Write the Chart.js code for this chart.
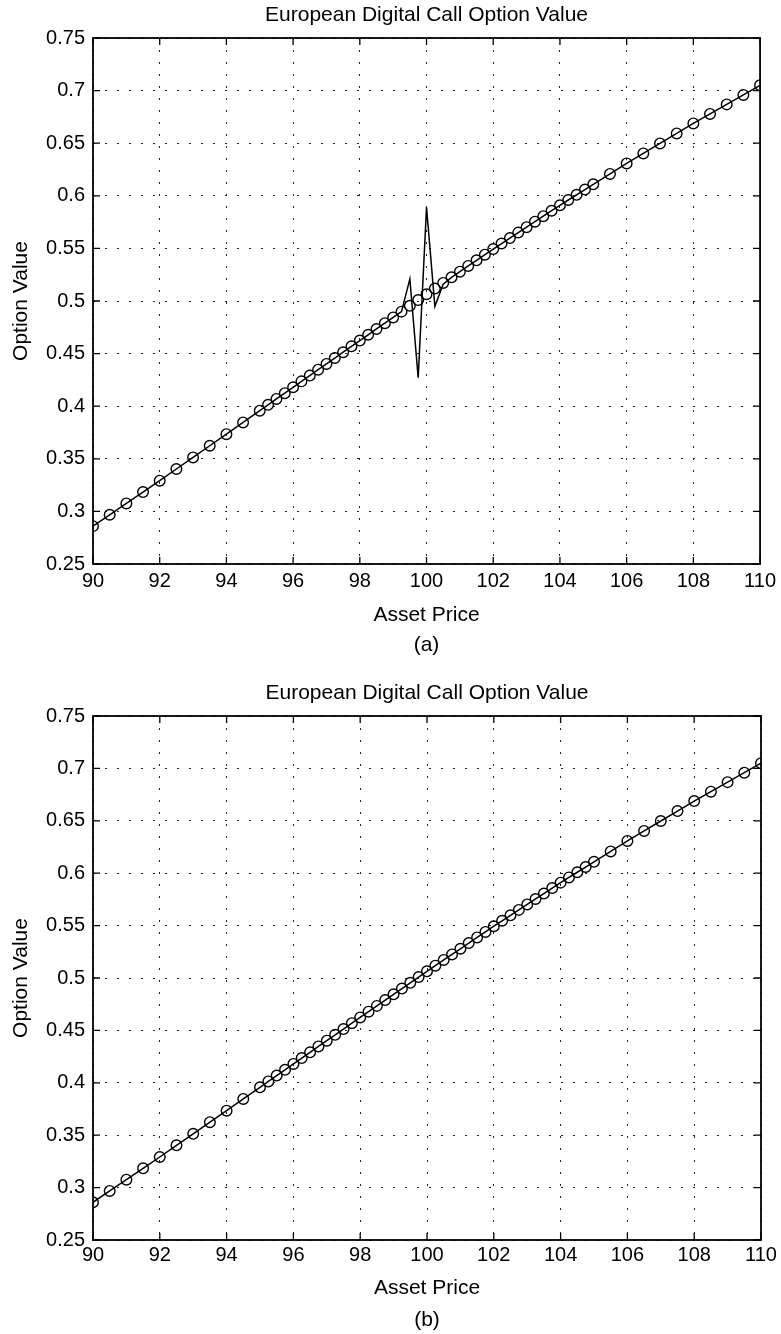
<!DOCTYPE html>
<html>
<head>
<meta charset="utf-8">
<title>European Digital Call Option Value</title>
<script src="https://cdn.jsdelivr.net/npm/chart.js@4.4.0/dist/chart.umd.min.js"></script>
<style>
  body { margin: 0; background: #fff; }
  .panel { position: relative; width: 781px; height: 667px; }
</style>
</head>
<body>
<div class="panel"><canvas id="chartA" width="781" height="667"></canvas></div>
<div class="panel"><canvas id="chartB" width="781" height="667"></canvas></div>
<script>
// asset price grid (coarse at the ends, finer around the strike)
var assetPrice = [
    90, 90.5, 91, 91.5, 92, 92.5, 93, 93.5, 94, 94.5, 95,
    95.25, 95.5, 95.75, 96, 96.25, 96.5, 96.75, 97, 97.25, 97.5, 97.75, 98,
    98.25, 98.5, 98.75, 99, 99.25, 99.5, 99.75, 100, 100.25, 100.5, 100.75, 101,
    101.25, 101.5, 101.75, 102, 102.25, 102.5, 102.75, 103, 103.25, 103.5, 103.75, 104,
    104.25, 104.5, 104.75, 105,
    105.5, 106, 106.5, 107, 107.5, 108, 108.5, 109, 109.5, 110
];

// analytic values (circles)
var exactValue = [
    0.2860, 0.2968, 0.3076, 0.3184, 0.3292, 0.3403, 0.3513, 0.3624, 0.3734, 0.3846, 0.3957,
    0.4013, 0.4069, 0.4124, 0.4180, 0.4236, 0.4291, 0.4347, 0.4402, 0.4458, 0.4513, 0.4569, 0.4624,
    0.4679, 0.4734, 0.4789, 0.4844, 0.4899, 0.4954, 0.5009, 0.5064, 0.5118, 0.5172, 0.5225, 0.5279,
    0.5333, 0.5387, 0.5440, 0.5494, 0.5546, 0.5598, 0.5650, 0.5702, 0.5754, 0.5806, 0.5858, 0.5910,
    0.5960, 0.6009, 0.6059, 0.6109,
    0.6208, 0.6308, 0.6403, 0.6498, 0.6593, 0.6688, 0.6778, 0.6869, 0.6959, 0.7050
];

// numerical solution in (a), oscillating near the strike
var numericalValue = [
    0.2860, 0.2968, 0.3076, 0.3184, 0.3292, 0.3403, 0.3513, 0.3624, 0.3734, 0.3846, 0.3957,
    0.4013, 0.4069, 0.4124, 0.4180, 0.4236, 0.4291, 0.4347, 0.4402, 0.4458, 0.4513, 0.4569, 0.4624,
    0.4679, 0.4734, 0.4789, 0.4844, 0.4899, 0.5210, 0.4270, 0.5890, 0.4950, 0.5160, 0.5225, 0.5279,
    0.5333, 0.5387, 0.5440, 0.5494, 0.5546, 0.5598, 0.5650, 0.5702, 0.5754, 0.5806, 0.5858, 0.5910,
    0.5960, 0.6009, 0.6059, 0.6109,
    0.6208, 0.6308, 0.6403, 0.6498, 0.6593, 0.6688, 0.6778, 0.6869, 0.6959, 0.7050
];

var xTickValues = [90, 92, 94, 96, 98, 100, 102, 104, 106, 108, 110];
var yTickValues = [0.25, 0.3, 0.35, 0.4, 0.45, 0.5, 0.55, 0.6, 0.65, 0.7, 0.75];

Chart.defaults.font.family = '"Liberation Sans", Arial, sans-serif';
Chart.defaults.font.size = 20;
Chart.defaults.color = '#000';

function toPoints(xs, ys) {
    var pts = [];
    for (var i = 0; i < xs.length; i++) {
        pts.push({ x: xs[i], y: ys[i] });
    }
    return pts;
}

// box round the plot with inward ticks, matlab style
var boxPlugin = {
    id: 'matlabBox',
    afterDatasetsDraw: function (chart) {
        var ctx = chart.ctx, area = chart.chartArea;
        var xs = chart.scales.x, ys = chart.scales.y;
        ctx.save();
        ctx.strokeStyle = '#000';
        ctx.lineWidth = 1.3;
        ctx.beginPath();
        xs.ticks.forEach(function (t) {
            var px = xs.getPixelForValue(t.value);
            ctx.moveTo(px, area.bottom); ctx.lineTo(px, area.bottom - 7);
            ctx.moveTo(px, area.top); ctx.lineTo(px, area.top + 7);
        });
        ys.ticks.forEach(function (t) {
            var py = ys.getPixelForValue(t.value);
            ctx.moveTo(area.left, py); ctx.lineTo(area.left + 7, py);
            ctx.moveTo(area.right, py); ctx.lineTo(area.right - 7, py);
        });
        ctx.stroke();
        ctx.lineWidth = 1.8;
        ctx.strokeRect(area.left, area.top, area.right - area.left, area.bottom - area.top);
        ctx.restore();
    }
};

function makeChart(id, datasets, caption, lay) {
    var ctx = document.getElementById(id).getContext('2d');
    return new Chart(ctx, {
        type: 'line',
        data: { datasets: datasets },
        plugins: [boxPlugin],
        options: {
            responsive: false,
            animation: false,
            layout: { padding: { left: 0, right: 20, top: 0, bottom: 0 } },
            plugins: {
                legend: { display: false },
                tooltip: { enabled: false },
                title: {
                    display: true,
                    fullSize: false,
                    text: 'European Digital Call Option Value',
                    font: { size: 21, weight: 'normal' },
                    padding: { top: lay.titleTop, bottom: 10.4 }
                },
                subtitle: {
                    display: true,
                    fullSize: false,
                    text: caption,
                    position: 'bottom',
                    font: { size: 21 },
                    padding: { top: 0, bottom: lay.capBottom }
                }
            },
            scales: {
                x: {
                    type: 'linear',
                    min: 90,
                    max: 110,
                    afterBuildTicks: function (axis) {
                        axis.ticks = xTickValues.map(function (v) { return { value: v }; });
                    },
                    afterFit: function (scale) { scale.height = lay.xHeight; },
                    ticks: { padding: lay.xTickPad, maxRotation: 0, autoSkip: false },
                    grid: { color: '#222', lineWidth: 1, drawTicks: false },
                    border: { display: false, dash: [2, 10] },
                    title: {
                        display: true,
                        text: 'Asset Price',
                        font: { size: 21 },
                        padding: { top: 0, bottom: lay.xTitleBottom }
                    }
                },
                y: {
                    min: 0.25,
                    max: 0.75,
                    afterBuildTicks: function (axis) {
                        axis.ticks = yTickValues.map(function (v) { return { value: v }; });
                    },
                    afterFit: function (scale) { scale.width = 93; },
                    ticks: {
                        padding: 8,
                        autoSkip: false,
                        callback: function (v) { return String(+Number(v).toFixed(2)); }
                    },
                    grid: { color: '#222', lineWidth: 1, drawTicks: false },
                    border: { display: false, dash: [2, 10] },
                    title: {
                        display: true,
                        text: 'Option Value',
                        font: { size: 21 },
                        padding: { top: 8.4, bottom: 0 }
                    }
                }
            }
        }
    });
}

// (a) oscillating numerical line against the exact circles
makeChart('chartA', [
    {
        label: 'numerical',
        data: toPoints(assetPrice, numericalValue),
        borderColor: '#000',
        borderWidth: 1.5,
        pointRadius: 0,
        tension: 0,
        fill: false
    },
    {
        label: 'exact',
        data: toPoints(assetPrice, exactValue),
        showLine: false,
        pointStyle: 'circle',
        pointRadius: 5.3,
        pointBorderWidth: 1.4,
        pointBorderColor: '#000',
        pointBackgroundColor: 'rgba(0,0,0,0)'
    }
], '(a)', { titleTop: 2.4, capBottom: 9.4, xHeight: 68.4, xTickPad: 5, xTitleBottom: 4.8 });

// (b) smooth solution
makeChart('chartB', [
    {
        label: 'exact',
        data: toPoints(assetPrice, exactValue),
        borderColor: '#000',
        borderWidth: 1.5,
        tension: 0,
        fill: false,
        pointStyle: 'circle',
        pointRadius: 5.3,
        pointBorderWidth: 1.4,
        pointBorderColor: '#000',
        pointBackgroundColor: 'rgba(0,0,0,0)'
    }
], '(b)', { titleTop: 13.4, capBottom: 1.4, xHeight: 67.4, xTickPad: 3.5, xTitleBottom: 6.8 });
</script>
</body>
</html>
